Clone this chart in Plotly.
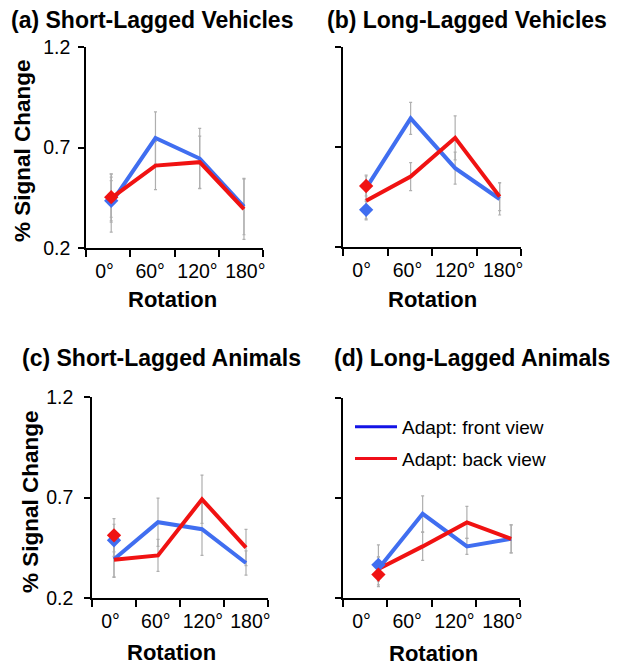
import plotly.graph_objects as go

# ---------------- data ----------------
ROTATIONS = ["0°", "60°", "120°", "180°"]

a_front = [0.424, 0.747, 0.645, 0.406]
a_back = [0.448, 0.610, 0.627, 0.393]
a_front_err = [0.145, 0.13, 0.15, 0.14]
a_back_err = [0.12, 0.12, 0.13, 0.15]
a_diam = [0.435, 0.453]          # front, back at 0°
a_diam_err = [0.10, 0.10]

b_front = [0.494, 0.843, 0.594, 0.440]
b_back = [0.431, 0.552, 0.746, 0.452]
b_front_err = [0.066, 0.08, 0.08, 0.08]
b_back_err = [0.09, 0.07, 0.11, 0.07]
b_diam = [0.386, 0.505]
b_diam_err = [0.05, 0.05]

c_front = [0.393, 0.577, 0.542, 0.374]
c_back = [0.390, 0.412, 0.691, 0.451]
c_front_err = [0.09, 0.12, 0.13, 0.06]
c_back_err = [0.085, 0.08, 0.12, 0.09]
c_diam = [0.487, 0.512]
c_diam_err = [0.08, 0.083]

d_front = [0.346, 0.621, 0.458, 0.496]
d_back = [0.345, 0.458, 0.578, 0.496]
d_front_err = [0.06, 0.09, 0.04, 0.07]
d_back_err = [0.06, 0.07, 0.08, 0.07]
d_diam = [0.366, 0.317]
d_diam_err = [0.10, 0.06]

TITLES = ["(a) Short-Lagged Vehicles", "(b) Long-Lagged Vehicles",
          "(c) Short-Lagged Animals", "(d) Long-Lagged Animals"]
LEGEND_NAMES = ["Adapt: front view", "Adapt: back view"]

# ---------------- styling ----------------
OFF = 8                      # page body margin
W, H = 618 - OFF, 668 - OFF  # figure size


def px_x(v):
    return (v - OFF) / W


def px_y(v):
    return 1 - (v - OFF) / H


FONT = "Liberation Sans, Arial, Helvetica, sans-serif"
BLUE = "rgb(64,110,240)"
RED = "rgb(240,18,18)"
LEG_BLUE = "rgb(20,20,230)"
LEG_RED = "rgb(240,15,25)"
ERR = "rgb(175,175,175)"
LABEL_POS = [0.42, 1.45, 2.52, 3.6]   # tick-label positions along each x axis

panels = [
    dict(front=a_front, back=a_back, fe=a_front_err, be=a_back_err, diam=a_diam, de=a_diam_err,
         off=0.57, xdom=(86, 263), ydom=(47, 248), ylab=True, ystand=4),
    dict(front=b_front, back=b_back, fe=b_front_err, be=b_back_err, diam=b_diam, de=b_diam_err,
         off=0.52, xdom=(343, 521), ydom=(47, 247), ylab=False, ystand=4),
    dict(front=c_front, back=c_back, fe=c_front_err, be=c_back_err, diam=c_diam, de=c_diam_err,
         off=0.50, xdom=(92, 268), ydom=(397, 598), ylab=True, ystand=7),
    dict(front=d_front, back=d_back, fe=d_front_err, be=d_back_err, diam=d_diam, de=d_diam_err,
         off=0.80, xdom=(343, 520), ydom=(398, 598), ylab=False, ystand=7),
]

fig = go.Figure()
layout = {}

for i, p in enumerate(panels):
    n = "" if i == 0 else str(i + 1)
    xr, yr = "x" + n, "y" + n
    xs = [k + p["off"] for k in range(len(ROTATIONS))]

    def errtrace(xv, ys, es):
        return go.Scatter(x=xv, y=ys, mode="markers", xaxis=xr, yaxis=yr,
                          marker=dict(size=1, opacity=0), showlegend=False, hoverinfo="skip",
                          error_y=dict(type="data", array=es, visible=True, color=ERR,
                                       thickness=1.2, width=1.5))

    fig.add_trace(errtrace(xs, p["front"], p["fe"]))
    fig.add_trace(errtrace(xs, p["back"], p["be"]))
    fig.add_trace(errtrace([xs[0], xs[0]], p["diam"], p["de"]))
    fig.add_trace(go.Scatter(x=xs, y=p["front"], mode="lines", xaxis=xr, yaxis=yr,
                             line=dict(color=BLUE, width=4), showlegend=False))
    fig.add_trace(go.Scatter(x=xs, y=p["back"], mode="lines", xaxis=xr, yaxis=yr,
                             line=dict(color=RED, width=4), showlegend=False))
    fig.add_trace(go.Scatter(x=[xs[0]], y=[p["diam"][0]], mode="markers", xaxis=xr, yaxis=yr,
                             marker=dict(symbol="diamond", size=11, color=BLUE), showlegend=False))
    fig.add_trace(go.Scatter(x=[xs[0]], y=[p["diam"][1]], mode="markers", xaxis=xr, yaxis=yr,
                             marker=dict(symbol="diamond", size=11, color=RED), showlegend=False))

    layout["xaxis" + n] = dict(
        domain=[px_x(p["xdom"][0]), px_x(p["xdom"][1])], anchor=yr, range=[0, 4],
        tickmode="array", tickvals=LABEL_POS, ticktext=ROTATIONS,
        ticks="", showline=True, linecolor="black", linewidth=1.5,
        showgrid=False, zeroline=False, ticklabelstandoff=5, automargin=False,
        minor=dict(tickmode="array", tickvals=[0, 1, 2, 3, 4], ticks="outside",
                   ticklen=7, tickwidth=1.5, tickcolor="black", showgrid=False),
        tickfont=dict(family=FONT, size=19.5, color="black"), fixedrange=True)
    layout["yaxis" + n] = dict(
        domain=[px_y(p["ydom"][1]), px_y(p["ydom"][0])], anchor=xr, range=[0.2, 1.2],
        tickmode="array", tickvals=[0.2, 0.7, 1.2], ticktext=["0.2", "0.7", "1.2"],
        ticks="outside", ticklen=6, tickwidth=1.5, tickcolor="black",
        showline=True, linecolor="black", linewidth=1.5, showgrid=False, zeroline=False,
        showticklabels=p["ylab"], ticklabelstandoff=p["ystand"], automargin=False,
        tickfont=dict(family=FONT, size=19.5, color="black"), fixedrange=True)

# legend-only traces
fig.add_trace(go.Scatter(x=[None], y=[None], mode="lines", xaxis="x4", yaxis="y4",
                         line=dict(color=LEG_BLUE, width=3), name=LEGEND_NAMES[0], legendgroup="f"))
fig.add_trace(go.Scatter(x=[None], y=[None], mode="lines", xaxis="x4", yaxis="y4",
                         line=dict(color=LEG_RED, width=3), name=LEGEND_NAMES[1], legendgroup="b"))

annotations = []
title_pos = [(9, 20), (325, 20), (20, 358), (332, 358)]
for t, (x, y) in zip(TITLES, title_pos):
    annotations.append(dict(text="<b>" + t + "</b>", x=px_x(x), y=px_y(y), xref="paper", yref="paper",
                            xanchor="left", yanchor="middle", showarrow=False,
                            font=dict(family=FONT, size=23, color="black")))
for x, y in [(172, 299), (432, 299), (171, 652), (433, 653)]:
    annotations.append(dict(text="<b>Rotation</b>", x=px_x(x), y=px_y(y), xref="paper", yref="paper",
                            xanchor="center", yanchor="middle", showarrow=False,
                            font=dict(family=FONT, size=22, color="black")))
for x, y in [(22, 151), (30, 502)]:
    annotations.append(dict(text="<b>% Signal Change</b>", x=px_x(x), y=px_y(y), xref="paper",
                            yref="paper", xanchor="center", yanchor="middle", showarrow=False,
                            textangle=-90, font=dict(family=FONT, size=22.5, color="black")))

fig.update_layout(
    width=W, height=H, margin=dict(l=0, r=0, t=0, b=0, autoexpand=False),
    paper_bgcolor="white", plot_bgcolor="white",
    showlegend=True,
    legend=dict(x=px_x(350), y=px_y(408), xanchor="left", yanchor="top",
                font=dict(family=FONT, size=19, color="black"), bgcolor="rgba(0,0,0,0)",
                traceorder="grouped", tracegroupgap=4, itemwidth=42),
    annotations=annotations,
    **layout,
)

fig.write_html("out.html")
